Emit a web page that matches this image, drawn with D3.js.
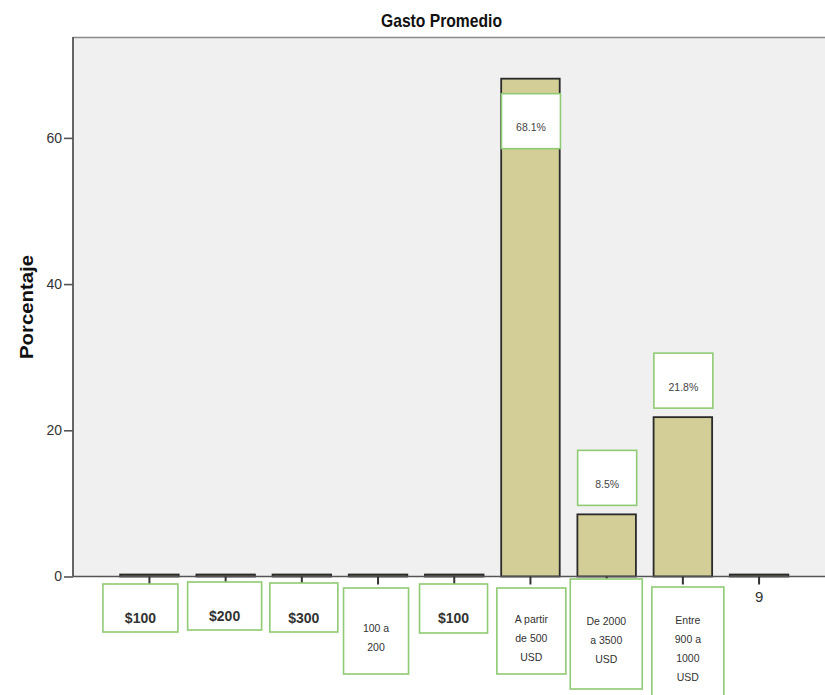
<!DOCTYPE html>
<html>
<head>
<meta charset="utf-8">
<script src="https://cdn.jsdelivr.net/npm/d3@7"></script>
<style>
  html, body { margin: 0; padding: 0; background: #ffffff; }
  svg { display: block; font-family: "Liberation Sans", Arial, sans-serif; }
</style>
</head>
<body>
<svg id="chart" width="825" height="695"></svg>
<script>
// Category labels (lines of each tick label) and percentage per category
const categories = [
  ["$100"], ["$200"], ["$300"], ["100 a", "200"], ["$100"],
  ["A partir", "de 500", "USD"], ["De 2000", "a 3500", "USD"],
  ["Entre", "900 a", "1000", "USD"], ["9"]
];
const percentages = [0.27, 0.27, 0.27, 0.27, 0.27, 68.1, 8.5, 21.8, 0.27];
const labelled = [false, false, false, false, false, true, true, true, false];
const yTicks = [0, 20, 40, 60];
const title = "Gasto Promedio";
const yTitle = "Porcentaje";

// Tick-label boxes below the axis: [dx from tick, top below axis, width, height, first baseline below axis]
const tickBoxes = [
  [-46.5, 7.5, 75, 48, 46.5],
  [-38, 5.5, 74, 48, 44.5],
  [-32, 6.5, 68, 49, 46.5],
  [-34.5, 11.5, 65, 86, 55.5],
  [-34.7, 7.5, 68, 49, 46.5],
  [-33.6, 11.5, 69, 86, 46.5],
  [-36.4, 2.5, 72, 110, 48.5],
  [-31, 10.5, 72, 115, 47.5],
  null
];

const svg = d3.select("#chart");
const plot = { left: 73, top: 37, right: 825, bottom: 576.5 };
const green = "#8fca74";

const idx = categories.map((d, i) => i);
const x = d3.scaleBand()
  .domain(idx)
  .range([plot.left, 835.5])
  .paddingInner(0.232)
  .paddingOuter(0.619);

const y = d3.scaleLinear()
  .domain([0, 73.8])
  .range([plot.bottom, plot.top]);

// Plot background and frame
svg.append("rect")
  .attr("x", plot.left).attr("y", plot.top)
  .attr("width", plot.right - plot.left + 5).attr("height", plot.bottom - plot.top)
  .attr("fill", "#f0f0f0");
svg.append("line")
  .attr("x1", plot.left).attr("x2", plot.right + 5)
  .attr("y1", plot.top + 0.5).attr("y2", plot.top + 0.5)
  .attr("stroke", "#8a8a8a").attr("stroke-width", 1.6);

// Bars
svg.append("g").selectAll("rect")
  .data(idx)
  .join("rect")
  .attr("x", i => x(i))
  .attr("width", x.bandwidth())
  .attr("y", i => y(percentages[i]))
  .attr("height", i => y(0) - y(percentages[i]))
  .attr("fill", "#d3ce97")
  .attr("stroke", "#2a2a2a")
  .attr("stroke-width", 1.8);

// Y axis
const yAxis = d3.axisLeft(y).tickValues(yTicks).tickSize(9).tickPadding(2).tickFormat(d3.format("d"));
const yg = svg.append("g")
  .attr("transform", `translate(${plot.left},0)`)
  .call(yAxis);
yg.select(".domain").attr("stroke", "#555").attr("stroke-width", 1.8)
  .attr("d", `M0,${plot.top}V${plot.bottom}`);
yg.selectAll(".tick line").attr("stroke", "#555").attr("stroke-width", 1.6);
yg.selectAll(".tick text")
  .attr("fill", "#333").attr("font-size", 14)
  .attr("font-family", "'Liberation Sans', Arial, sans-serif");

// X axis
const xAxis = d3.axisBottom(x).tickSize(8).tickFormat(() => "");
const xg = svg.append("g")
  .attr("transform", `translate(0,${plot.bottom})`)
  .call(xAxis);
xg.select(".domain").attr("stroke", "#555").attr("stroke-width", 1.6)
  .attr("d", `M${plot.left},0H${plot.right + 5}`);
xg.selectAll(".tick line").attr("stroke", "#333").attr("stroke-width", 2);

// Tick labels: boxed labels and the plain last one
const tl = svg.append("g");
idx.forEach(i => {
  const cx = x(i) + x.bandwidth() / 2;
  const lines = categories[i];
  const b = tickBoxes[i];
  if (b) {
    const left = cx + b[0];
    tl.append("rect")
      .attr("x", left).attr("y", plot.bottom + b[1])
      .attr("width", b[2]).attr("height", b[3])
      .attr("fill", "#ffffff").attr("stroke", green).attr("stroke-width", 1.6);
    const bold = lines.length === 1;
    const t = tl.append("text")
      .attr("text-anchor", "middle")
      .attr("fill", "#333")
      .attr("font-size", bold ? 14 : 10.5)
      .attr("font-weight", bold ? "bold" : "normal");
    lines.forEach((ln, k) => {
      t.append("tspan")
        .attr("x", left + b[2] / 2)
        .attr("y", plot.bottom + b[4] + k * 19)
        .text(ln);
    });
  } else {
    tl.append("text")
      .attr("x", cx).attr("y", plot.bottom + 25)
      .attr("text-anchor", "middle")
      .attr("fill", "#333").attr("font-size", 15)
      .text(lines[0]);
  }
});

// Value labels above bars (placed inside the bar when there is no room above)
const boxW = 59, boxH = 55, gap = 9;
const vl = svg.append("g");
idx.filter(i => labelled[i]).forEach(i => {
  const cx = x(i) + x.bandwidth() / 2;
  const yv = y(percentages[i]);
  let top = yv - gap - boxH;
  if (top < plot.top) top = yv + 15;
  vl.append("rect")
    .attr("x", cx - boxW / 2 + 0.5).attr("y", top)
    .attr("width", boxW).attr("height", boxH)
    .attr("fill", "#ffffff").attr("stroke", green).attr("stroke-width", 1.6);
  vl.append("text")
    .attr("x", cx + 0.5).attr("y", top + boxH / 2 + 10)
    .attr("text-anchor", "middle")
    .attr("fill", "#444").attr("font-size", 10.5)
    .text(d3.format(".1f")(percentages[i]) + "%");
});

// Titles
svg.append("text")
  .attr("x", 441.5).attr("y", 27)
  .attr("text-anchor", "middle")
  .attr("font-size", 19).attr("font-weight", "bold").attr("fill", "#111")
  .attr("textLength", 121).attr("lengthAdjust", "spacingAndGlyphs")
  .text(title);
svg.append("text")
  .attr("transform", "translate(33,307) rotate(-90)")
  .attr("text-anchor", "middle")
  .attr("font-size", 19).attr("font-weight", "bold").attr("fill", "#111")
  .attr("textLength", 104).attr("lengthAdjust", "spacingAndGlyphs")
  .text(yTitle);
</script>
</body>
</html>
